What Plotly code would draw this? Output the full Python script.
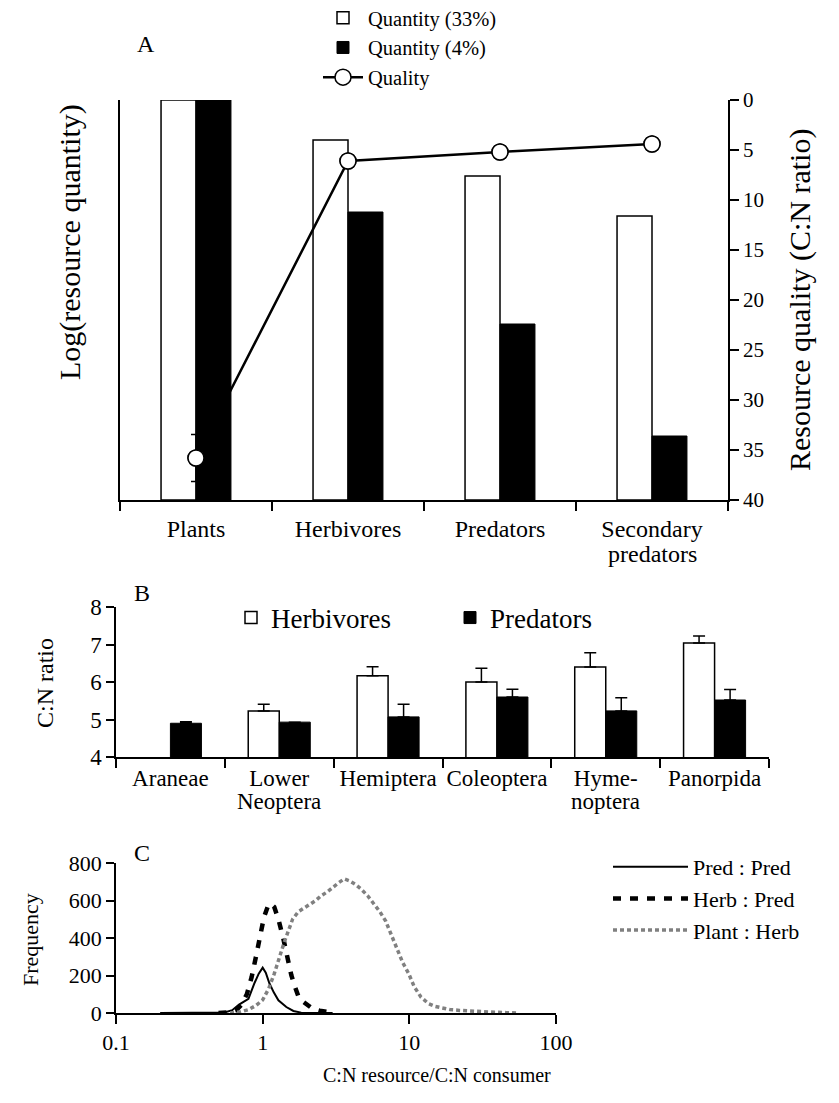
import plotly.graph_objects as go

W, H = 839, 1103
OFF = 8  # page body margin of the browser
def px(x): return (x - OFF) / W
def py(y): return 1 - (y - OFF) / H

FONT = "Liberation Serif"

# ---------------- Panel A data ----------------
a_categories = ["Plants", "Herbivores", "Predators", "Secondary predators"]
a_label_line1 = ["Plants", "Herbivores", "Predators", "Secondary"]
a_label_line2 = ["", "", "", "predators"]
a_qty33 = [1.00, 0.90, 0.81, 0.71]
a_qty4 = [1.00, 0.72, 0.44, 0.16]
a_quality = [35.8, 6.1, 5.2, 4.4]
a_quality_err = [2.35, 0, 0, 0]

# ---------------- Panel B data ----------------
b_categories = ["Araneae", "Lower Neoptera", "Hemiptera", "Coleoptera", "Hymenoptera", "Panorpida"]
b_label_line1 = ["Araneae", "Lower", "Hemiptera", "Coleoptera", "Hyme-", "Panorpida"]
b_label_line2 = ["", "Neoptera", "", "", "noptera", ""]
b_herb = [None, 5.23, 6.17, 6.00, 6.40, 7.04]
b_herb_err = [0, 0.18, 0.24, 0.37, 0.38, 0.19]
b_pred = [4.90, 4.93, 5.07, 5.60, 5.23, 5.52]
b_pred_err = [0.04, 0.0, 0.34, 0.21, 0.35, 0.28]

# ---------------- Panel C data ----------------
c_pp_x = [0.2, 0.4, 0.55, 0.62, 0.69, 0.75, 0.80, 0.88, 0.94, 1.00, 1.05, 1.11, 1.19, 1.28, 1.45, 1.62, 1.83, 2.2, 3.0]
c_pp_y = [0, 0, 3, 15, 45, 62, 75, 160, 210, 242, 215, 160, 110, 68, 32, 11, 2, 0, 0]

c_hp_x = [0.5, 0.6, 0.66, 0.72, 0.78, 0.84, 0.90, 0.96, 1.02, 1.08, 1.13, 1.20, 1.28, 1.38, 1.48, 1.57, 1.66, 1.75, 1.85, 1.95, 2.05, 2.2, 2.45, 2.7, 3.1]
c_hp_y = [0, 4, 15, 45, 100, 190, 300, 410, 510, 565, 585, 565, 500, 400, 290, 200, 140, 90, 65, 50, 35, 22, 12, 5, 0]

c_ph_x = [0.6, 0.7, 0.8, 0.9, 1.0, 1.1, 1.2, 1.3, 1.4, 1.5, 1.6, 1.75, 1.9, 2.1, 2.3, 2.5, 2.75, 3.0, 3.3, 3.6, 3.9, 4.3, 4.7, 5.2, 5.7, 6.3, 6.9, 7.5, 8.2, 9.0, 9.9, 10.8, 12.0, 13.5, 15.0, 17.0, 19.0, 22.0, 26.0, 31.0, 38.0, 46.0, 55.0]
c_ph_y = [0, 5, 18, 40, 70, 130, 210, 300, 375, 440, 500, 540, 560, 580, 600, 625, 645, 670, 695, 715, 705, 685, 660, 625, 585, 540, 490, 420, 340, 270, 210, 140, 85, 50, 35, 25, 18, 14, 10, 7, 4, 2, 0]

fig = go.Figure()

# ---- Panel A ----
fig.add_trace(go.Scatter(
    x=a_categories, y=a_quality, mode="lines+markers", name="Quality",
    line=dict(color="black", width=2.5),
    marker=dict(symbol="circle", size=16, color="white", line=dict(color="black", width=1.5)),
    error_y=dict(type="data", array=a_quality_err, visible=True, color="black", thickness=1.5, width=5),
    xaxis="x", yaxis="y", legend="legend", legendrank=3,
))
fig.add_trace(go.Bar(
    x=a_categories, y=a_qty33, name="Quantity (33%)",
    marker=dict(color="rgba(0,0,0,0)", line=dict(color="black", width=1.5)),
    offset=-0.23, width=0.23,
    xaxis="x", yaxis="y2", legend="legend", legendrank=1,
))
fig.add_trace(go.Bar(
    x=a_categories, y=a_qty4, name="Quantity (4%)",
    marker=dict(color="black", line=dict(color="black", width=1)),
    offset=0.0, width=0.23,
    xaxis="x", yaxis="y2", legend="legend", legendrank=2,
))
fig.add_trace(go.Scatter(
    x=a_categories, y=a_quality, mode="markers", showlegend=False,
    marker=dict(symbol="circle", size=16, color="white", line=dict(color="black", width=1.5)),
    xaxis="x", yaxis="y3",
))

# ---- Panel B ----
fig.add_trace(go.Bar(
    x=b_categories, y=b_herb, name="Herbivores",
    marker=dict(color="white", line=dict(color="black", width=1.5)),
    error_y=dict(type="data", symmetric=False, array=b_herb_err, arrayminus=[0] * 6,
                 color="black", thickness=1.5, width=6),
    xaxis="x2", yaxis="y4", legend="legend2",
))
fig.add_trace(go.Bar(
    x=b_categories, y=b_pred, name="Predators",
    marker=dict(color="black", line=dict(color="black", width=1)),
    error_y=dict(type="data", symmetric=False, array=b_pred_err, arrayminus=[0] * 6,
                 color="black", thickness=1.5, width=6),
    xaxis="x2", yaxis="y4", legend="legend2",
))

# ---- Panel C ----
fig.add_trace(go.Scatter(
    x=c_pp_x, y=c_pp_y, mode="lines", name="Pred : Pred",
    line=dict(color="black", width=2),
    xaxis="x3", yaxis="y5", legend="legend3",
))
fig.add_trace(go.Scatter(
    x=c_hp_x, y=c_hp_y, mode="lines", name="Herb : Pred",
    line=dict(color="black", width=4.5, dash="8px,9px"),
    xaxis="x3", yaxis="y5", legend="legend3",
))
fig.add_trace(go.Scatter(
    x=c_ph_x, y=c_ph_y, mode="lines", name="Plant : Herb",
    line=dict(color="#808080", width=3.5, dash="4px,3px"),
    xaxis="x3", yaxis="y5", legend="legend3",
))

def ax(size, **kw):
    d = dict(showline=True, linecolor="black", linewidth=1.5, showgrid=False, zeroline=False,
             tickcolor="black", tickwidth=1.5, automargin=False,
             tickfont=dict(family=FONT, size=size, color="black"))
    d.update(kw)
    return d

def label(text, x, y, size, angle=0):
    return dict(text=text, x=px(x), y=py(y), xref="paper", yref="paper", showarrow=False,
                xanchor="center", yanchor="middle", textangle=angle,
                font=dict(family=FONT, size=size, color="black"))

def second_lines(cats, lines, xref, y, size):
    out = []
    for c, t in zip(cats, lines):
        if t:
            out.append(dict(text=t, x=c, y=py(y), xref=xref, yref="paper", showarrow=False,
                            xanchor="center", yanchor="middle",
                            font=dict(family=FONT, size=size, color="black")))
    return out

annotations = [
    label("A", 146, 44, 24),
    label("B", 142, 593, 24),
    label("C", 142, 853, 24),
    label("Log(resource quantity)", 70, 242, 30, -90),
    label("Resource quality (C:N ratio)", 800, 300, 30, -90),
    label("C:N ratio", 45, 683, 24, -90),
    label("Frequency", 30, 940, 22, -90),
    label("C:N resource/C:N consumer", 437, 1075, 20),
]
annotations += second_lines(a_categories, a_label_line2, "x", 554, 24)
annotations += second_lines(b_categories, b_label_line2, "x2", 801, 23)

fig.update_layout(
    width=W, height=H,
    margin=dict(l=0, r=0, t=0, b=0, autoexpand=False),
    paper_bgcolor="white", plot_bgcolor="rgba(0,0,0,0)",
    font=dict(family=FONT, size=21, color="black"),
    barmode="group",
    bargap=0.43,
    xaxis=ax(24, domain=[px(120), px(728)], anchor="y", type="category", range=[-0.5, 3.5],
             tickvals=a_categories, ticktext=a_label_line1, ticklabelstandoff=6,
             ticks="outside", ticklen=9, tickson="boundaries", tickangle=0),
    yaxis=ax(21, domain=[py(500), py(100)], anchor="x", side="right", range=[40, 0],
             tickvals=[0, 5, 10, 15, 20, 25, 30, 35, 40], ticks="outside", ticklen=9),
    yaxis2=ax(21, overlaying="y", anchor="x", side="left", range=[0, 1],
              showticklabels=False, ticks=""),
    yaxis3=dict(overlaying="y", anchor="x", range=[40, 0], visible=False),
    xaxis2=ax(23, domain=[px(116), px(769)], anchor="y4", type="category", range=[-0.5, 5.5],
              tickvals=b_categories, ticktext=b_label_line1,
              ticks="outside", ticklen=9, tickson="boundaries", tickangle=0),
    yaxis4=ax(23, domain=[py(757), py(607)], anchor="x2", range=[4, 8], tickvals=[4, 5, 6, 7, 8],
              ticks="outside", ticklen=8),
    xaxis3=ax(22, domain=[px(116), px(556)], anchor="y5", type="log", range=[-1, 2],
              tickvals=[0.1, 1, 10, 100], ticktext=["0.1", "1", "10", "100"],
              ticks="outside", ticklen=9, tickangle=0),
    yaxis5=ax(22, domain=[py(1013), py(863)], anchor="x3", range=[0, 800],
              tickvals=[0, 200, 400, 600, 800], ticks="outside", ticklen=8),
    legend=dict(x=px(318), y=py(-2), xanchor="left", yanchor="top", orientation="v",
                font=dict(family=FONT, size=20.5), bgcolor="rgba(0,0,0,0)", tracegroupgap=0,
                traceorder="normal", itemwidth=40),
    legend2=dict(x=px(231), y=py(618), xanchor="left", yanchor="middle", orientation="h",
                 font=dict(family=FONT, size=27), bgcolor="rgba(0,0,0,0)",
                 entrywidth=174, entrywidthmode="pixels", itemwidth=30),
    legend3=dict(x=px(608), y=py(846), xanchor="left", yanchor="top", orientation="v",
                 font=dict(family=FONT, size=22), bgcolor="rgba(0,0,0,0)", tracegroupgap=0,
                 itemwidth=75),
    annotations=annotations,
)

fig.write_html("out.html")
